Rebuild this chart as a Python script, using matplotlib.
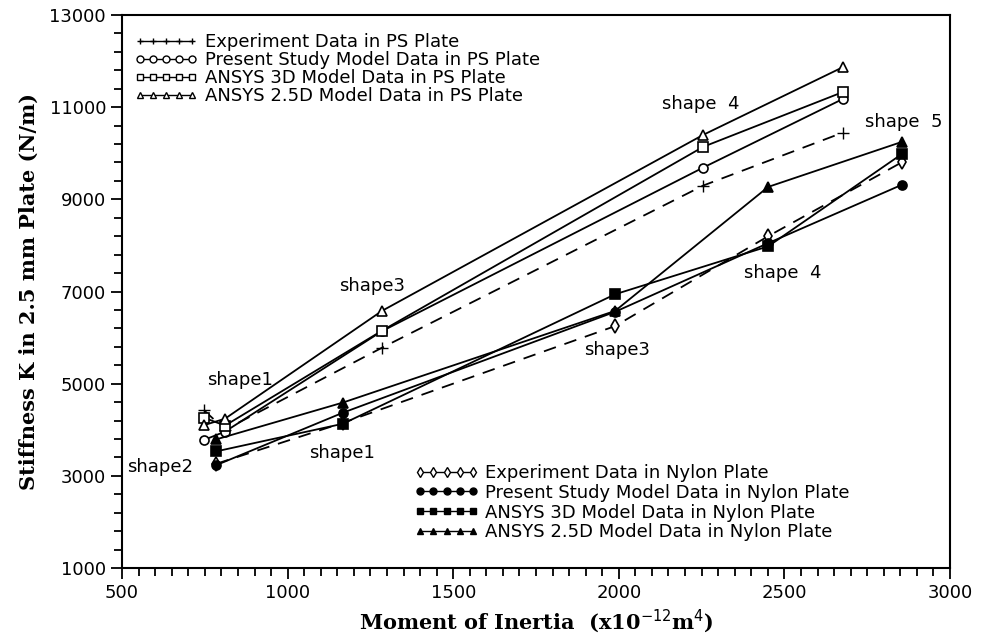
import matplotlib
matplotlib.use("Agg")
import matplotlib.pyplot as plt
import numpy as np
from matplotlib.lines import Line2D

# PS plate (shape2, shape1, shape3, shape4, shape5)
x_ps = [748, 811, 1285, 2255, 2677]
exp_ps = [4420, 4000, 5780, 9300, 10450]
present_ps = [3780, 3960, 6140, 9690, 11180]
ansys3d_ps = [4260, 4090, 6150, 10140, 11330]
ansys25_ps = [4100, 4240, 6580, 10400, 11870]

# Nylon plate
x_ny = [784, 1167, 1989, 2451, 2856]
exp_ny = [3260, 4150, 6250, 8200, 9810]
present_ny = [3230, 4370, 6560, 8050, 9320]
ansys3d_ny = [3530, 4130, 6940, 7980, 9990]
ansys25_ny = [3790, 4590, 6580, 9270, 10250]

ps_labels = ["Experiment Data in PS Plate",
             "Present Study Model Data in PS Plate",
             "ANSYS 3D Model Data in PS Plate",
             "ANSYS 2.5D Model Data in PS Plate"]
ny_labels = ["Experiment Data in Nylon Plate",
             "Present Study Model Data in Nylon Plate",
             "ANSYS 3D Model Data in Nylon Plate",
             "ANSYS 2.5D Model Data in Nylon Plate"]

shape_text = [("shape1", 856, 5082), ("shape2", 615, 3182),
              ("shape1", 1164, 3506), ("shape3", 1255, 7113),
              ("shape3", 1995, 5730), ("shape  4", 2246, 11066),
              ("shape  5", 2859, 10677), ("shape  4", 2496, 7394)]

plt.rcParams['font.family'] = ['DejaVu Sans']
fig = plt.figure(figsize=(9.81, 6.42), dpi=100)
ax = fig.add_axes([0.1244, 0.1153, 0.8440, 0.8613])

k = dict(color='black', lw=1.3, markersize=6.5, markeredgewidth=1.2)
ax.plot(x_ps, exp_ps, '--', marker='+', markersize=8, color='black', lw=1.3,
        dashes=(7, 5))
ax.plot(x_ps, present_ps, '-', marker='o', markerfacecolor='white', **k)
ax.plot(x_ps, ansys3d_ps, '-', marker='s', markerfacecolor='white', **k)
ax.plot(x_ps, ansys25_ps, '-', marker='^', markerfacecolor='white', **k)

ax.plot(x_ny, exp_ny, '--', marker='d', markerfacecolor='white', color='black',
        lw=1.3, markersize=7, markeredgewidth=1.2, dashes=(7, 5))
ax.plot(x_ny, present_ny, '-', marker='o', markerfacecolor='black', **k)
ax.plot(x_ny, ansys3d_ny, '-', marker='s', markerfacecolor='black', **k)
ax.plot(x_ny, ansys25_ny, '-', marker='^', markerfacecolor='black', **k)

for t, x, y in shape_text:
    ax.text(x, y, t, fontsize=13, ha='center', va='center')

ax.set_xlim(500, 3000)
ax.set_ylim(1000, 13000)
ax.set_xticks(np.arange(500, 3001, 500))
ax.set_xticks(np.arange(500, 3001, 50), minor=True)
ax.set_yticks(np.arange(1000, 13001, 2000))
ax.set_yticks(np.arange(1000, 13001, 400), minor=True)
ax.tick_params(which='both', direction='out', top=False, right=False,
               width=1.3, labelsize=13)
ax.tick_params(which='major', length=8)
ax.tick_params(which='minor', length=6)
for s in ax.spines.values():
    s.set_linewidth(1.5)

ax.set_xlabel(r'Moment of Inertia  (x10$^{-12}$m$^{4}$)', fontsize=15,
              family='DejaVu Serif', fontweight='bold', labelpad=4)
ax.set_ylabel('Stiffness K in 2.5 mm Plate (N/m)', fontsize=15,
              family='DejaVu Serif', fontweight='bold', labelpad=8)

hk = dict(color='black', lw=1.0, markersize=5, markeredgewidth=1.0)
ps_handles = [Line2D([], [], marker='+', **hk),
              Line2D([], [], marker='o', markerfacecolor='white', **hk),
              Line2D([], [], marker='s', markerfacecolor='white', **hk),
              Line2D([], [], marker='^', markerfacecolor='white', **hk)]
ny_handles = [Line2D([], [], marker='d', markerfacecolor='white', **hk),
              Line2D([], [], marker='o', markerfacecolor='black', **hk),
              Line2D([], [], marker='s', markerfacecolor='black', **hk),
              Line2D([], [], marker='^', markerfacecolor='black', **hk)]

leg1 = ax.legend(ps_handles, ps_labels, loc='upper left',
                 bbox_to_anchor=(0.0, 0.99), frameon=False, fontsize=13,
                 numpoints=5, handlelength=3.5, handletextpad=0.4,
                 labelspacing=0.0, borderaxespad=0.3)
ax.add_artist(leg1)
ax.legend(ny_handles, ny_labels, loc='lower left',
          bbox_to_anchor=(0.345, 0.035), frameon=False, fontsize=13,
          numpoints=5, handlelength=3.5, handletextpad=0.4,
          labelspacing=0.1, borderaxespad=0.0)

fig.savefig('out.png', dpi=100)
